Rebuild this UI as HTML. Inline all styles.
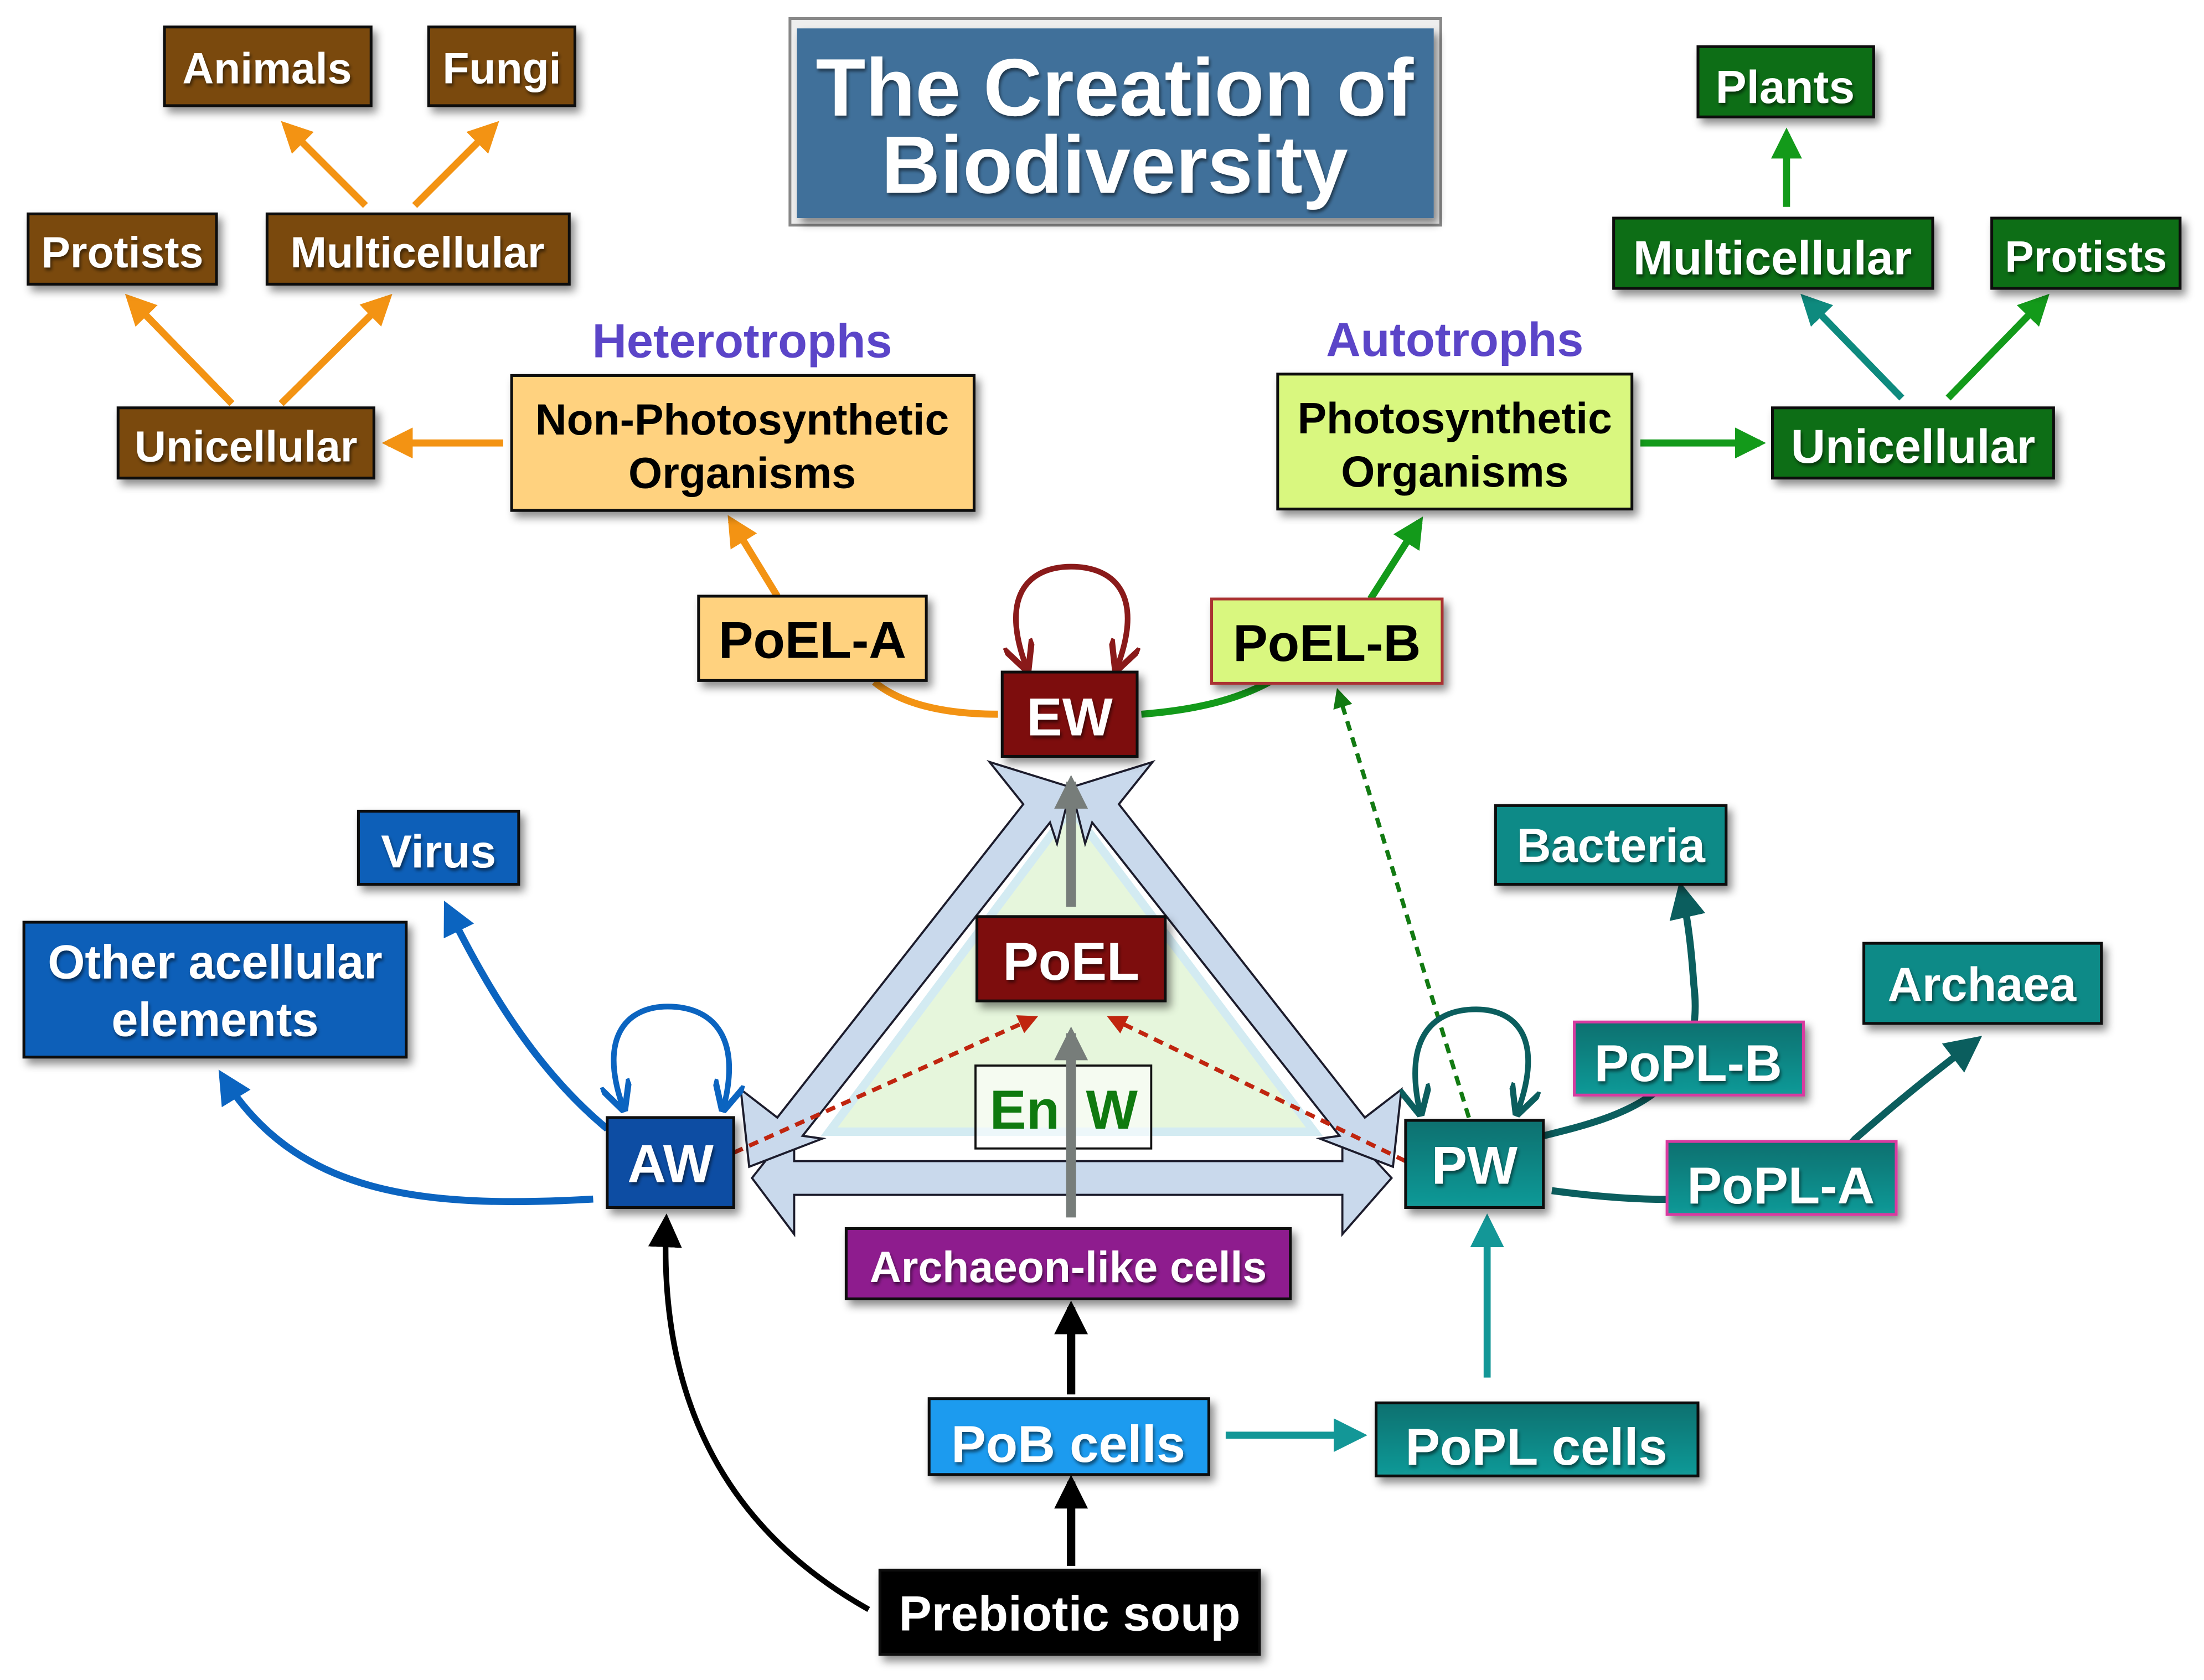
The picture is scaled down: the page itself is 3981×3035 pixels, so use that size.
<!DOCTYPE html>
<html><head><meta charset="utf-8"><style>
html,body{margin:0;padding:0;background:#fff;}
svg{display:block;}
text{font-family:"Liberation Sans",Arial,sans-serif;font-weight:bold;}
</style></head><body>
<svg width="3981" height="3035" viewBox="0 0 1568 1195" xmlns="http://www.w3.org/2000/svg">
<defs>
<filter id="sh" x="-20%" y="-20%" width="150%" height="160%"><feDropShadow dx="3" dy="4" stdDeviation="3" flood-color="#000" flood-opacity="0.45"/></filter>
<filter id="ts" x="-10%" y="-10%" width="120%" height="130%"><feDropShadow dx="1" dy="2" stdDeviation="1.2" flood-color="#000" flood-opacity="0.5"/></filter>
<marker id="mOr" viewBox="0 0 10 10" refX="8" refY="5" markerWidth="22" markerHeight="22" markerUnits="userSpaceOnUse" orient="auto"><path d="M0,0L10,5L0,10z" fill="#f39313"/></marker>
<marker id="mGr" viewBox="0 0 10 10" refX="8" refY="5" markerWidth="22" markerHeight="22" markerUnits="userSpaceOnUse" orient="auto"><path d="M0,0L10,5L0,10z" fill="#139a1a"/></marker>
<marker id="mGn" viewBox="0 0 10 10" refX="8" refY="5" markerWidth="22" markerHeight="22" markerUnits="userSpaceOnUse" orient="auto"><path d="M0,0L10,5L0,10z" fill="#0e8a7e"/></marker>
<marker id="mBl" viewBox="0 0 10 10" refX="8" refY="5" markerWidth="24" markerHeight="24" markerUnits="userSpaceOnUse" orient="auto"><path d="M0,0L10,5L0,10z" fill="#0b64c0"/></marker>
<marker id="mTl" viewBox="0 0 10 10" refX="8" refY="5" markerWidth="26" markerHeight="26" markerUnits="userSpaceOnUse" orient="auto"><path d="M0,0L10,5L0,10z" fill="#0b5e5e"/></marker>
<marker id="mTc" viewBox="0 0 10 10" refX="8" refY="5" markerWidth="24" markerHeight="24" markerUnits="userSpaceOnUse" orient="auto"><path d="M0,0L10,5L0,10z" fill="#139797"/></marker>
<marker id="mBk" viewBox="0 0 10 10" refX="8" refY="5" markerWidth="24" markerHeight="24" markerUnits="userSpaceOnUse" orient="auto"><path d="M0,0L10,5L0,10z" fill="#000"/></marker>
<marker id="mGy" viewBox="0 0 10 10" refX="8" refY="5" markerWidth="24" markerHeight="24" markerUnits="userSpaceOnUse" orient="auto"><path d="M0,0L10,5L0,10z" fill="#777d7a"/></marker>
<marker id="mRd" viewBox="0 0 10 10" refX="8" refY="5" markerWidth="14" markerHeight="14" markerUnits="userSpaceOnUse" orient="auto"><path d="M0,0L10,5L0,10z" fill="#c0250f"/></marker>
<marker id="mDg" viewBox="0 0 10 10" refX="8" refY="5" markerWidth="14" markerHeight="14" markerUnits="userSpaceOnUse" orient="auto"><path d="M0,0L10,5L0,10z" fill="#127a12"/></marker>
<marker id="mDr" viewBox="0 0 10 10" refX="8" refY="5" markerWidth="22" markerHeight="22" markerUnits="userSpaceOnUse" orient="auto-start-reverse"><path d="M0,0L10,5L0,10" fill="none" stroke="#8a1a1a" stroke-width="2"/></marker>
<marker id="mLb" viewBox="0 0 10 10" refX="8" refY="5" markerWidth="22" markerHeight="22" markerUnits="userSpaceOnUse" orient="auto-start-reverse"><path d="M0,0L10,5L0,10" fill="none" stroke="#0b64c0" stroke-width="2"/></marker>
<marker id="mLt" viewBox="0 0 10 10" refX="8" refY="5" markerWidth="22" markerHeight="22" markerUnits="userSpaceOnUse" orient="auto-start-reverse"><path d="M0,0L10,5L0,10" fill="none" stroke="#0b5e5e" stroke-width="2"/></marker>
<linearGradient id="gTeal" x1="0" y1="0" x2="0" y2="1"><stop offset="0" stop-color="#08706f"/><stop offset="1" stop-color="#129a98"/></linearGradient>
</defs>

<!-- Title -->
<rect x="562" y="13" width="463" height="147" fill="#eee" stroke="#888" stroke-width="2"/>
<rect x="567" y="20" width="453" height="135" fill="#3f6f9a" filter="url(#sh)"/>
<text x="793" y="82" font-size="58" fill="#fff" text-anchor="middle" filter="url(#ts)">The Creation of</text>
<text x="793" y="137" font-size="58" fill="#fff" text-anchor="middle" filter="url(#ts)">Biodiversity</text>

<!-- central triangle -->
<polygon points="762,575 590,805 935,805" fill="#e6f6dc" stroke="#d3ebf2" stroke-width="6"/>
<g fill="#c9d9ec" stroke="#1c1c2c" stroke-width="1.5" stroke-linejoin="miter">
<polygon points="535,838 565,800 565,826 955,826 955,800 990,838 955,878 955,850 565,850 565,878"/>
<polygon points="762,560 704,542 728,572 553,795 527,775 533,830 585,810 571,808 747,585 752,600"/>
<polygon points="762,560 820,542 796,572 971,795 997,775 991,830 939,810 953,808 777,585 772,600"/>
</g>

<!-- gray arrows -->
<line x1="762" y1="866" x2="762" y2="735" stroke="#777d7a" stroke-width="7" marker-end="url(#mGy)"/>
<line x1="762" y1="645" x2="762" y2="556" stroke="#777d7a" stroke-width="7" marker-end="url(#mGy)"/>

<!-- dotted -->
<line x1="522" y1="820" x2="736" y2="724" stroke="#c0250f" stroke-width="3" stroke-dasharray="7,5" marker-end="url(#mRd)"/>
<line x1="1000" y1="826" x2="790" y2="724" stroke="#c0250f" stroke-width="3" stroke-dasharray="7,5" marker-end="url(#mRd)"/>
<line x1="1045" y1="795" x2="952" y2="492" stroke="#127a12" stroke-width="3" stroke-dasharray="7,5" marker-end="url(#mDg)"/>

<!-- top connectors -->
<path d="M710,508 C670,508 640,500 622,485" fill="none" stroke="#f39313" stroke-width="5"/>
<line x1="553" y1="424" x2="520" y2="370" stroke="#f39313" stroke-width="5" marker-end="url(#mOr)"/>
<path d="M812,508 C850,505 880,498 905,484" fill="none" stroke="#139a1a" stroke-width="5"/>
<line x1="975" y1="426" x2="1010" y2="371" stroke="#139a1a" stroke-width="5" marker-end="url(#mGr)"/>
<line x1="358" y1="315" x2="276" y2="315" stroke="#f39313" stroke-width="5" marker-end="url(#mOr)"/>
<line x1="165" y1="287" x2="92" y2="212" stroke="#f39313" stroke-width="5" marker-end="url(#mOr)"/>
<line x1="200" y1="287" x2="276" y2="212" stroke="#f39313" stroke-width="5" marker-end="url(#mOr)"/>
<line x1="260" y1="146" x2="203" y2="89" stroke="#f39313" stroke-width="5" marker-end="url(#mOr)"/>
<line x1="295" y1="146" x2="352" y2="89" stroke="#f39313" stroke-width="5" marker-end="url(#mOr)"/>
<line x1="1167" y1="315" x2="1252" y2="315" stroke="#139a1a" stroke-width="5" marker-end="url(#mGr)"/>
<line x1="1353" y1="283" x2="1284" y2="212" stroke="#0e8a7e" stroke-width="5" marker-end="url(#mGn)"/>
<line x1="1386" y1="283" x2="1455" y2="212" stroke="#139a1a" stroke-width="5" marker-end="url(#mGr)"/>
<line x1="1271" y1="147" x2="1271" y2="95" stroke="#139a1a" stroke-width="5" marker-end="url(#mGr)"/>

<!-- loops -->
<path d="M730,474 C710,420 735,403 762,403 C790,403 815,420 795,474" fill="none" stroke="#8a1a1a" stroke-width="4" marker-start="url(#mDr)" marker-end="url(#mDr)"/>
<path d="M443,787 C425,735 448,716 475,716 C505,716 528,735 515,787" fill="none" stroke="#0b64c0" stroke-width="4" marker-start="url(#mLb)" marker-end="url(#mLb)"/>
<path d="M1010,790 C998,735 1022,718 1050,718 C1080,718 1098,740 1080,790" fill="none" stroke="#0b5e5e" stroke-width="4" marker-start="url(#mLt)" marker-end="url(#mLt)"/>

<!-- left blue -->
<path d="M432,803 C380,760 345,700 318,645" fill="none" stroke="#0b64c0" stroke-width="5" marker-end="url(#mBl)"/>
<path d="M422,853 C300,860 210,850 158,765" fill="none" stroke="#0b64c0" stroke-width="5" marker-end="url(#mBl)"/>

<!-- right teal -->
<path d="M1098,808 C1150,795 1215,780 1205,700 C1203,670 1200,650 1196,632" fill="none" stroke="#0b5e5e" stroke-width="5" marker-end="url(#mTl)"/>
<path d="M1104,847 C1200,860 1280,855 1320,810 C1360,775 1380,760 1406,740" fill="none" stroke="#0b5e5e" stroke-width="5" marker-end="url(#mTl)"/>
<line x1="1058" y1="980" x2="1058" y2="868" stroke="#139797" stroke-width="5" marker-end="url(#mTc)"/>
<line x1="872" y1="1021" x2="968" y2="1021" stroke="#139797" stroke-width="5" marker-end="url(#mTc)"/>
<line x1="762" y1="992" x2="762" y2="930" stroke="#000" stroke-width="6" marker-end="url(#mBk)"/>
<line x1="762" y1="1114" x2="762" y2="1054" stroke="#000" stroke-width="6" marker-end="url(#mBk)"/>
<path d="M618,1145 C520,1090 468,1000 474,868" fill="none" stroke="#000" stroke-width="4" marker-end="url(#mBk)"/>

<!-- boxes -->
<g stroke="#111" stroke-width="2" filter="url(#sh)">
<rect x="117" y="19" width="147" height="56" fill="#7a4a0e"/>
<rect x="305" y="19" width="104" height="56" fill="#7a4a0e"/>
<rect x="20" y="152" width="134" height="50" fill="#7a4a0e"/>
<rect x="190" y="152" width="215" height="50" fill="#7a4a0e"/>
<rect x="84" y="290" width="182" height="50" fill="#7a4a0e"/>
<rect x="364" y="267" width="329" height="96" fill="#ffd27f"/>
<rect x="909" y="266" width="252" height="96" fill="#d9f77f"/>
<rect x="1261" y="290" width="200" height="50" fill="#0b6e12"/>
<rect x="1148" y="155" width="227" height="50" fill="#0b6e12"/>
<rect x="1417" y="155" width="134" height="50" fill="#0b6e12"/>
<rect x="1208" y="33" width="125" height="50" fill="#0b6e12"/>
<rect x="497" y="424" width="162" height="60" fill="#ffd27f"/>
<rect x="862" y="426" width="164" height="60" fill="#d9f77f" stroke="#a33"/>
<rect x="713" y="478" width="96" height="60" fill="#7d1010"/>
<rect x="695" y="652" width="134" height="60" fill="#7d1010"/>
<rect x="255" y="577" width="114" height="52" fill="#0a5fb8"/>
<rect x="17" y="656" width="272" height="96" fill="#0a5fb8"/>
<rect x="432" y="795" width="90" height="64" fill="#0b4ea3"/>
<rect x="1000" y="797" width="98" height="62" fill="url(#gTeal)"/>
<rect x="1064" y="573" width="164" height="56" fill="#0e8a87"/>
<rect x="1326" y="671" width="169" height="57" fill="#0e8a87"/>
<rect x="1120" y="727" width="163" height="52" fill="url(#gTeal)" stroke="#d83aa0"/>
<rect x="1186" y="812" width="163" height="52" fill="url(#gTeal)" stroke="#d83aa0"/>
<rect x="602" y="874" width="316" height="50" fill="#8e1d8e"/>
<rect x="661" y="995" width="199" height="54" fill="#1c9bef"/>
<rect x="979" y="998" width="229" height="52" fill="url(#gTeal)"/>
<rect x="626" y="1117" width="270" height="60" fill="#000"/>
</g>
<rect x="694" y="758" width="125" height="59" fill="#fff" fill-opacity="0.6" stroke="#111" stroke-width="1.5"/>
<line x1="762" y1="866" x2="762" y2="735" stroke="#777d7a" stroke-width="7"/>

<!-- labels -->
<g fill="#fff" text-anchor="middle" filter="url(#ts)">
<text x="190" y="59" font-size="31">Animals</text>
<text x="357" y="59" font-size="31">Fungi</text>
<text x="87" y="190" font-size="31">Protists</text>
<text x="297" y="190" font-size="31">Multicellular</text>
<text x="175" y="328" font-size="31">Unicellular</text>
<text x="1361" y="329" font-size="34">Unicellular</text>
<text x="1261" y="195" font-size="34">Multicellular</text>
<text x="1484" y="193" font-size="31">Protists</text>
<text x="1270" y="73" font-size="33">Plants</text>
<text x="761" y="523" font-size="38">EW</text>
<text x="762" y="697" font-size="38">PoEL</text>
<text x="312" y="617" font-size="33">Virus</text>
<text x="153" y="696" font-size="34">Other acellular</text>
<text x="153" y="737" font-size="34">elements</text>
<text x="477" y="841" font-size="38">AW</text>
<text x="1049" y="842" font-size="38">PW</text>
<text x="1146" y="613" font-size="34">Bacteria</text>
<text x="1410" y="712" font-size="34">Archaea</text>
<text x="1201" y="769" font-size="37">PoPL-B</text>
<text x="1267" y="856" font-size="37">PoPL-A</text>
<text x="760" y="912" font-size="31">Archaeon-like cells</text>
<text x="760" y="1040" font-size="37">PoB cells</text>
<text x="1093" y="1042" font-size="37">PoPL cells</text>
<text x="761" y="1160" font-size="35">Prebiotic soup</text>
</g>
<g fill="#000" text-anchor="middle">
<text x="528" y="309" font-size="31">Non-Photosynthetic</text>
<text x="528" y="347" font-size="31">Organisms</text>
<text x="1035" y="308" font-size="31">Photosynthetic</text>
<text x="1035" y="346" font-size="31">Organisms</text>
<text x="578" y="468" font-size="37">PoEL-A</text>
<text x="944" y="470" font-size="37">PoEL-B</text>
</g>
<text x="528" y="254" font-size="34" fill="#5b45c8" text-anchor="middle">Heterotrophs</text>
<text x="1035" y="253" font-size="34" fill="#5b45c8" text-anchor="middle">Autotrophs</text>
<text x="729" y="803" font-size="39" fill="#0f7a0f" text-anchor="middle">En</text>
<text x="791" y="803" font-size="39" fill="#0f7a0f" text-anchor="middle">W</text>
</svg>
</body></html>
